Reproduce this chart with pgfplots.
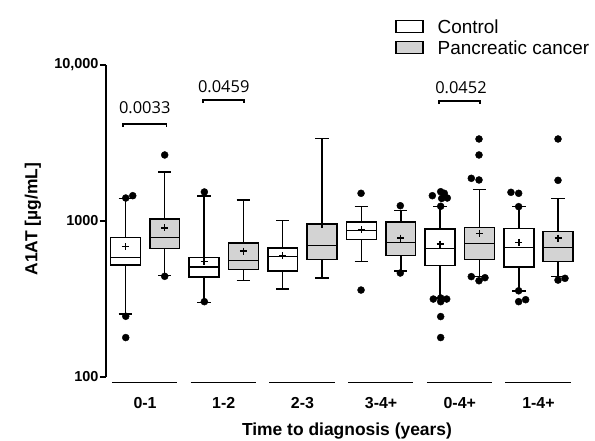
\documentclass[border=0pt]{standalone}
\usepackage{fontspec}
\setmainfont{Liberation Sans}
\newfontfamily\pfont{Open Sans}
\usepackage{pgfplots}
\pgfplotsset{compat=1.18}
\definecolor{boxgray}{RGB}{211,211,211}

\pgfplotsset{
  boxline/.style={draw=black, line width=1.5bp, line join=miter, forget plot},
}

% one box: position, lower whisker, lower quartile, median, upper quartile, upper whisker, fill
\newcommand{\bx}[7]{%
  \pgfmathsetmacro\bxl{#1-0.19}%
  \pgfmathsetmacro\bxr{#1+0.19}%
  \pgfmathsetmacro\bxcl{#1-0.085}%
  \pgfmathsetmacro\bxcr{#1+0.085}%
  \addplot[boxline] coordinates {(#1,#5) (#1,#6)};
  \addplot[boxline] coordinates {(#1,#3) (#1,#2)};
  \addplot[boxline] coordinates {(\bxcl,#6) (\bxcr,#6)};
  \addplot[boxline] coordinates {(\bxcl,#2) (\bxcr,#2)};
  \addplot[boxline, fill=#7] coordinates {(\bxl,#3) (\bxr,#3) (\bxr,#5) (\bxl,#5)} -- cycle;
  \addplot[boxline] coordinates {(\bxl,#4) (\bxr,#4)};
}

\begin{document}
\begin{tikzpicture}
\begin{axis}[
    width=467.9bp, height=312bp, scale only axis,
    ymode=log, ymin=100, ymax=10000,
    xmin=-0.496, xmax=5.45,
    clip=false,
    axis y line*=left, axis x line*=bottom,
    axis line style={-, line width=1.5bp},
    x axis line style={draw=none},
    tick align=outside, major tick length=6bp,
    ytick={100,1000,10000}, yticklabels={100,1000,{10,000}},
    yminorticks=false,
    ytick style={line width=1.5bp, black},
    xtick={0,1,2,3,4,5},
    xticklabels={0-1,1-2,2-3,3-4+,0-4+,1-4+},
    xtick style={draw=none},
    yticklabel style={font=\fontsize{14.5}{14.5}\selectfont\bfseries, xshift=2bp},
    xticklabel style={font=\fontsize{16}{16}\selectfont\bfseries, yshift=-11bp},
    xlabel={Time to diagnosis (years)},
    ylabel={A1AT [µg/mL]},
    xlabel style={font=\fontsize{17.5}{17.5}\selectfont\bfseries, at={(axis description cs:0.515,-0.173)}, anchor=center},
    ylabel style={font=\fontsize{17.5}{17.5}\selectfont\bfseries, at={(axis description cs:-0.156,0.506)}, anchor=center},
    legend style={at={(0.618,1.146)}, anchor=north west, draw=none, fill=none,
      inner sep=0pt, row sep=7.5bp,
      font=\fontsize{19}{19}\selectfont,
      nodes={inner sep=0pt, text height=13.5bp, text depth=0pt},
      /tikz/every odd column/.append style={column sep=14bp}},
    legend cell align=left,
]
\addlegendimage{legend image code/.code={\draw[fill=white, line width=1.3bp] (0bp,-6bp) rectangle (27bp,6bp);}}
\addlegendimage{legend image code/.code={\draw[fill=boxgray, line width=1.3bp] (0bp,-6bp) rectangle (27bp,6bp);}}

% 0-1
\bx{-0.25}{253}{522}{582}{781}{1398}{white}
\bx{0.25}{446}{668}{781}{1030}{2061}{boxgray}
% 1-2
\bx{0.75}{301}{438}{507}{582}{1446}{white}
\bx{1.25}{417}{487}{560}{723}{1364}{boxgray}
% 2-3
\bx{1.75}{366}{478}{590}{671}{1010}{white}
\bx{2.25}{431}{568}{694}{957}{3370}{boxgray}
% 3-4+
\bx{2.75}{552}{759}{866}{986}{1236}{white}
\bx{3.25}{478}{599}{730}{986}{1171}{boxgray}
% 0-4+
\bx{3.75}{321}{517}{664}{889}{1236}{white}
\bx{4.25}{440}{568}{719}{906}{1587}{boxgray}
% 1-4+
\bx{4.75}{357}{507}{678}{898}{1236}{white}
\bx{5.25}{440}{549}{678}{854}{1398}{boxgray}

% means
\addplot[only marks, mark=+, mark size=3.5bp, line width=1.4bp, black, forget plot] coordinates {
  (-0.25,684) (0.25,902) (0.75,552) (1.25,642) (1.75,600) (2.25,950)
  (2.75,880) (3.25,778) (3.75,712) (4.25,834) (4.75,730) (5.25,778)
};

% outliers
\addplot[only marks, mark=*, mark size=3.5bp, black, forget plot] coordinates {
  (-0.245,1404) (-0.156,1453) (-0.245,245) (-0.245,179)
  (0.25,2650) (0.25,442)
  (0.754,1535) (0.754,304)
  (2.745,1505) (2.745,361)
  (3.244,1253) (3.244,464)
  (3.651,1453) (3.757,1541) (3.803,1505) (3.841,1404) (3.77,1395) (3.757,1243)
  (3.663,316) (3.757,304) (3.834,316) (3.757,321) (3.757,244) (3.757,179)
  (4.244,3355) (4.244,2650) (4.146,1878) (4.244,1832) (4.146,440) (4.244,414) (4.32,433)
  (4.65,1527) (4.748,1505) (4.748,1236) (4.748,304) (4.837,313) (4.748,357)
  (5.248,3355) (5.248,1823) (5.248,418) (5.337,429)
};

\legend{Control, Pancreatic cancer}

% group underlines
\draw[line width=1.5bp] ([yshift=-5.7bp]axis cs:-0.42,100) -- ([yshift=-5.7bp]axis cs:0.41,100);
\draw[line width=1.5bp] ([yshift=-5.7bp]axis cs:0.58,100) -- ([yshift=-5.7bp]axis cs:1.41,100);
\draw[line width=1.5bp] ([yshift=-5.7bp]axis cs:1.58,100) -- ([yshift=-5.7bp]axis cs:2.41,100);
\draw[line width=1.5bp] ([yshift=-5.7bp]axis cs:2.58,100) -- ([yshift=-5.7bp]axis cs:3.41,100);
\draw[line width=1.5bp] ([yshift=-5.7bp]axis cs:3.58,100) -- ([yshift=-5.7bp]axis cs:4.41,100);
\draw[line width=1.5bp] ([yshift=-5.7bp]axis cs:4.58,100) -- ([yshift=-5.7bp]axis cs:5.41,100);

% significance brackets
\draw[line width=1.2bp] ([yshift=-3bp]axis cs:-0.28,4188) -- (axis cs:-0.28,4188) -- (axis cs:0.27,4188) -- ([yshift=-3bp]axis cs:0.27,4188);
\node[font=\pfont\fontsize{16.5}{16.5}\selectfont] at (axis cs:-0.004,5317) {0.0033};
\draw[line width=1.2bp] ([yshift=-3bp]axis cs:0.737,5964) -- (axis cs:0.737,5964) -- (axis cs:1.258,5964) -- ([yshift=-3bp]axis cs:1.258,5964);
\node[font=\pfont\fontsize{16.5}{16.5}\selectfont] at (axis cs:1.0,7211) {0.0459};
\draw[line width=1.2bp] ([yshift=-3bp]axis cs:3.736,5875) -- (axis cs:3.736,5875) -- (axis cs:4.257,5875) -- ([yshift=-3bp]axis cs:4.257,5875);
\node[font=\pfont\fontsize{16.5}{16.5}\selectfont] at (axis cs:4.015,7145) {0.0452};
\end{axis}
\pgfresetboundingbox
\path (-106bp,-64bp) rectangle (489bp,377bp);
\end{tikzpicture}
\end{document}
